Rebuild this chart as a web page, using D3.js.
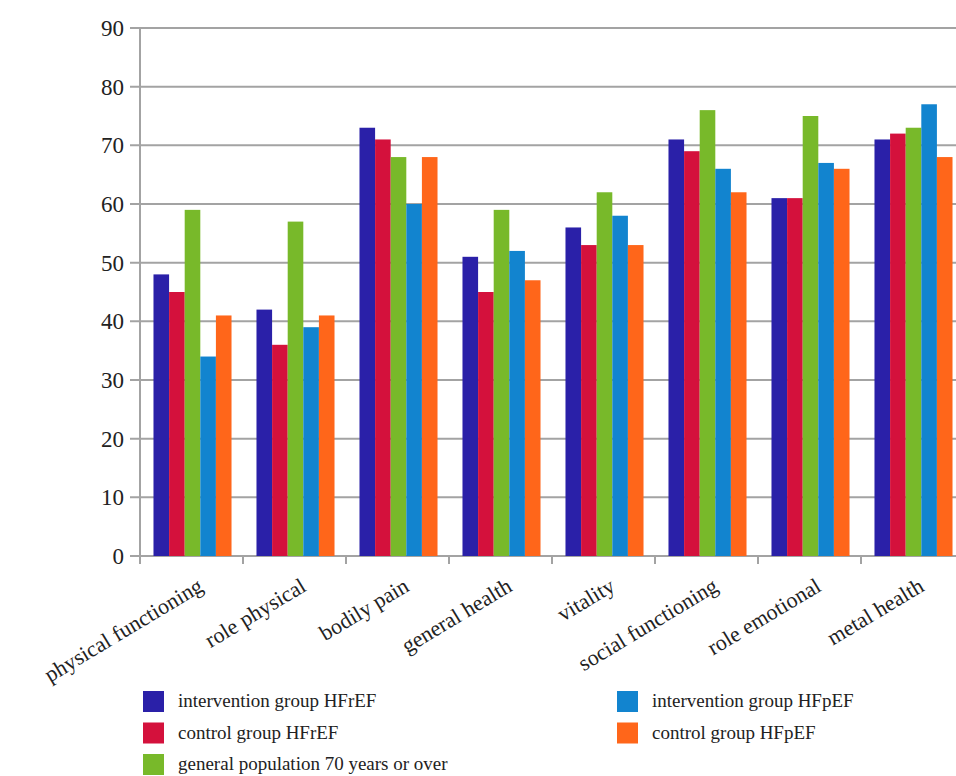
<!DOCTYPE html>
<html>
<head>
<meta charset="utf-8">
<script src="https://cdn.jsdelivr.net/npm/d3@7"></script>
<style>
  body { margin: 0; background: #fff; }
  svg text { font-family: "Liberation Serif", "DejaVu Serif", "Times New Roman", serif; }
</style>
</head>
<body>
<div id="chart"></div>
<script>
// categories and series
var categories = ["physical functioning", "role physical", "bodily pain", "general health",
                  "vitality", "social functioning", "role emotional", "metal health"];
var seriesNames = ["intervention group HFrEF", "control group HFrEF",
                   "general population 70 years or over", "intervention group HFpEF", "control group HFpEF"];
var interventionHFrEF = [48, 42, 73, 51, 56, 71, 61, 71];
var controlHFrEF      = [45, 36, 71, 45, 53, 69, 61, 72];
var generalPop70      = [59, 57, 68, 59, 62, 76, 75, 73];
var interventionHFpEF = [34, 39, 60, 52, 58, 66, 67, 77];
var controlHFpEF      = [41, 41, 68, 47, 53, 62, 66, 68];
var yTicks = [0, 10, 20, 30, 40, 50, 60, 70, 80, 90];

var colors = ["#2a20a8", "#d4113c", "#78b92a", "#1284cf", "#ff661a"];
var allValues = [interventionHFrEF, controlHFrEF, generalPop70, interventionHFpEF, controlHFpEF];

var W = 956, H = 776;
var margin = {top: 28, left: 140};
var plotW = 824, plotH = 528;

var svg = d3.select("#chart").append("svg")
  .attr("width", W)
  .attr("height", H);

var g = svg.append("g")
  .attr("transform", "translate(" + margin.left + "," + margin.top + ")");

var x0 = d3.scaleBand().domain(categories).range([0, plotW]).padding(0);
var x1 = d3.scaleBand().domain(seriesNames).range([1, x0.bandwidth() + 1])
  .paddingInner(0).paddingOuter(0.8);
var y = d3.scaleLinear().domain([0, 90]).range([plotH, 0]);

// gridlines
g.append("g").selectAll("line")
  .data(yTicks)
  .enter().append("line")
  .attr("x1", -10)
  .attr("x2", W)
  .attr("y1", function(d) { return y(d); })
  .attr("y2", function(d) { return y(d); })
  .attr("stroke", "#a3a3a3")
  .attr("stroke-width", 2);

// y axis
var yAxis = d3.axisLeft(y).tickValues(yTicks).tickSize(0).tickPadding(16);
var ya = g.append("g").call(yAxis);
ya.attr("font-family", null);
ya.select(".domain").remove();
ya.selectAll("text")
  .attr("font-size", 23)
  .attr("fill", "#222");

// bars
var rows = categories.map(function(c, i) {
  return {cat: c, vals: seriesNames.map(function(s, j) { return {name: s, v: allValues[j][i], k: j}; })};
});

var grp = g.append("g").selectAll("g")
  .data(rows)
  .enter().append("g")
  .attr("transform", function(d) { return "translate(" + x0(d.cat) + ",0)"; });

grp.selectAll("rect")
  .data(function(d) { return d.vals; })
  .enter().append("rect")
  .attr("x", function(d) { return x1(d.name); })
  .attr("width", x1.bandwidth())
  .attr("y", function(d) { return y(d.v); })
  .attr("height", function(d) { return plotH - y(d.v); })
  .attr("fill", function(d) { return colors[d.k]; });

// left axis line
g.append("line")
  .attr("x1", 0).attr("x2", 0)
  .attr("y1", 0).attr("y2", plotH + 8)
  .attr("stroke", "#a3a3a3").attr("stroke-width", 2);

// x axis ticks at band boundaries
var bounds = categories.map(function(c) { return x0(c); }).concat([plotW]);
g.append("g").selectAll("line")
  .data(bounds)
  .enter().append("line")
  .attr("x1", function(d) { return d; })
  .attr("x2", function(d) { return d; })
  .attr("y1", plotH)
  .attr("y2", plotH + 8)
  .attr("stroke", "#a3a3a3").attr("stroke-width", 2);

// x labels
g.append("g").selectAll("text")
  .data(categories)
  .enter().append("text")
  .attr("transform", function(d) {
    return "translate(" + (x0(d) + x0.bandwidth() / 2 + 13) + "," + (plotH + 34) + ") rotate(-31)";
  })
  .attr("text-anchor", "end")
  .attr("font-size", 22)
  .attr("fill", "#222")
  .text(function(d) { return d; });

// legend
var legendPos = [[143, 691], [143, 722.5], [143, 754], [617, 691], [617, 722.5]];
var leg = svg.append("g").selectAll("g")
  .data(seriesNames)
  .enter().append("g")
  .attr("transform", function(d, i) { return "translate(" + legendPos[i][0] + "," + legendPos[i][1] + ")"; });

leg.append("rect")
  .attr("width", 21)
  .attr("height", 21)
  .attr("fill", function(d, i) { return colors[i]; });

leg.append("text")
  .attr("x", 35)
  .attr("y", 16)
  .attr("font-size", 19)
  .attr("fill", "#222")
  .text(function(d) { return d; });
</script>
</body>
</html>
